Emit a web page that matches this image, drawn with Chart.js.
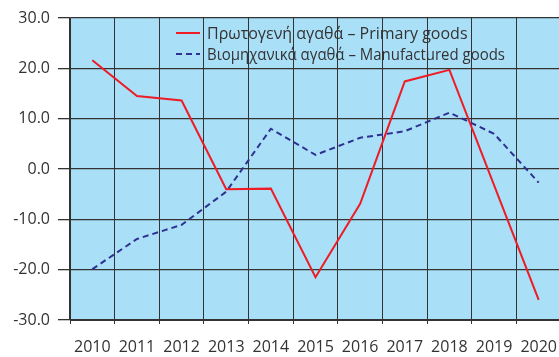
<!DOCTYPE html>
<html lang="el">
<head>
    <meta charset="UTF-8">
    <title>Πρωτογενή και βιομηχανικά αγαθά</title>
    <script src="https://cdn.jsdelivr.net/npm/chart.js"></script>
    <style>
        html, body {
            margin: 0;
            padding: 0;
            background: #ffffff;
            overflow: hidden;
        }

        #wrap {
            position: relative;
            width: 561px;
            height: 357px;
        }
    </style>
</head>
<body>
    <div id="wrap">
        <canvas id="goodsChart"></canvas>
    </div>

    <script>
        const years = ["2010", "2011", "2012", "2013", "2014", "2015", "2016", "2017", "2018", "2019", "2020"];
        const primaryGoods = [21.6, 14.5, 13.6, -4.0, -3.9, -21.5, -6.9, 17.4, 19.7, -3.2, -26.0];
        const manufacturedGoods = [-19.9, -13.9, -11.1, -4.5, 8.0, 2.8, 6.2, 7.5, 11.2, 7.0, -2.7];
        const primaryLabel = "Πρωτογενή αγαθά – Primary goods";
        const manufacturedLabel = "Βιομηχανικά αγαθά – Manufactured goods";

        const FONT = "'Open Sans', 'DejaVu Sans', sans-serif";
        const TEXT = "#333333";
        const GRID = "#333333";

        // light blue fill behind the plot
        const plotBackground = {
            id: "plotBackground",
            beforeDraw(chart) {
                const { ctx, chartArea: a } = chart;
                ctx.save();
                ctx.fillStyle = "#aadff8";
                ctx.fillRect(a.left, a.top, a.right - a.left, a.bottom - a.top);
                ctx.restore();
            }
        };

        // legend drawn inside the plot, over the grid
        const innerLegend = {
            id: "innerLegend",
            afterDatasetsDraw(chart) {
                const ctx = chart.ctx;
                ctx.save();
                ctx.font = "16px " + FONT;
                ctx.textBaseline = "middle";
                chart.data.datasets.forEach((ds, i) => {
                    const y = 33 + i * 21;
                    ctx.beginPath();
                    ctx.strokeStyle = ds.borderColor;
                    ctx.lineWidth = 2;
                    ctx.setLineDash(ds.borderDash || []);
                    ctx.moveTo(176, y);
                    ctx.lineTo(200, y);
                    ctx.stroke();
                    ctx.setLineDash([]);
                    ctx.fillStyle = TEXT;
                    ctx.fillText(ds.label, 207, y + 1, 298);
                });
                ctx.restore();
            }
        };

        new Chart(document.getElementById("goodsChart"), {
            type: "line",
            data: {
                labels: years,
                datasets: [
                    {
                        label: primaryLabel,
                        data: primaryGoods,
                        borderColor: "#ee1c25",
                        borderWidth: 2,
                        pointRadius: 0,
                        tension: 0,
                        fill: false
                    },
                    {
                        label: manufacturedLabel,
                        data: manufacturedGoods,
                        borderColor: "#2e3192",
                        borderWidth: 2,
                        borderDash: [6, 4],
                        pointRadius: 0,
                        tension: 0,
                        fill: false
                    }
                ]
            },
            options: {
                responsive: true,
                maintainAspectRatio: false,
                animation: false,
                layout: { padding: { top: 18, right: 0, left: 0, bottom: 0 } },
                plugins: {
                    legend: { display: false },
                    tooltip: { enabled: false }
                },
                scales: {
                    x: {
                        offset: true,
                        grid: {
                            offset: true,
                            color: GRID,
                            lineWidth: 1,
                            tickLength: 4
                        },
                        border: { color: GRID, width: 1 },
                        ticks: {
                            color: TEXT,
                            font: { family: FONT, size: 16 },
                            padding: 14,
                            maxRotation: 0,
                            autoSkip: false
                        },
                        afterFit(axis) {
                            axis.height = 37;
                            // plot runs to the right edge, last label may be clipped
                            axis.paddingRight = 0;
                            axis.paddingLeft = 0;
                        }
                    },
                    y: {
                        min: -30,
                        max: 30,
                        grid: {
                            color: GRID,
                            lineWidth: 1.3,
                            tickLength: 12
                        },
                        border: { color: GRID, width: 1.5 },
                        ticks: {
                            stepSize: 10,
                            color: TEXT,
                            font: { family: FONT, size: 16 },
                            padding: 8,
                            callback: v => v.toFixed(1)
                        },
                        afterFit(axis) { axis.width = 70; }
                    }
                }
            },
            plugins: [plotBackground, innerLegend]
        });
    </script>
</body>
</html>
